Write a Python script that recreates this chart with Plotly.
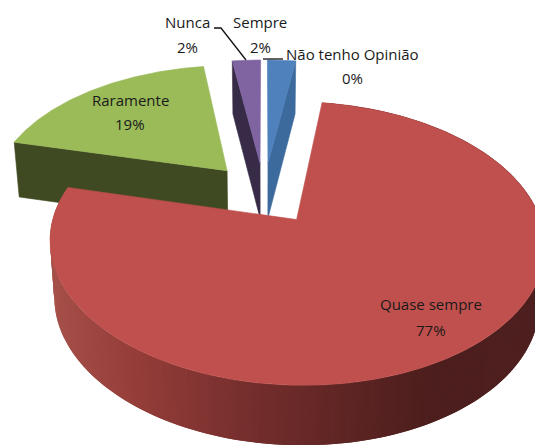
import numpy as np
import plotly.graph_objects as go

categories = ["Sempre", "Não tenho Opinião", "Quase sempre", "Raramente", "Nunca"]
values = [2.3, 0.0, 76.6, 18.8, 2.3]
face_colors = ["#4F81BD", "#4F81BD", "#C0504D", "#9BBB59", "#8064A2"]
wall_colors = ["#3C6A9C", "#3C6A9C", "#7A2F2D", "#3F4A22", "#372B47"]

# projection of the pie plane on to the 535x445 page
CX, CY, FX, FY, KP, EXPLODE = 264.0, 193.0, 236.0, 129.0, 0.163, 0.24


def project(u, v):
    d = 1 + KP * v
    return CX + FX * u / d, CY - FY * v / d


def drop(x, y):
    return CX + (x - CX) * 0.98, y + 51.7 + 0.0215 * y


def slice_geom(a0, a1):
    mid = (a0 + a1) / 2
    ou, ov = EXPLODE * np.sin(mid), EXPLODE * np.cos(mid)
    n = max(2, int((a1 - a0) / 0.01))
    th = np.linspace(a0, a1, n)
    ax, ay = project(ou, ov)
    x, y = project(ou + np.sin(th), ov + np.cos(th))
    return (ax, ay), x, y


def poly(fig, xs, ys, color, width=0.6):
    fig.add_trace(go.Scatter(x=list(xs) + [xs[0]], y=list(ys) + [ys[0]], mode="lines", fill="toself",
                             fillcolor=color, line=dict(color=color, width=width),
                             hoverinfo="skip", showlegend=False))


def wall_shade(x):
    stops_x = [45, 130, 250, 340, 430, 540]
    r = [168, 150, 116, 95, 76, 78]
    g = [82, 62, 46, 38, 30, 32]
    b = [76, 58, 45, 36, 29, 31]
    return "rgb(%d,%d,%d)" % (np.interp(x, stops_x, r), np.interp(x, stops_x, g), np.interp(x, stops_x, b))


fig = go.Figure()
total = sum(values)
edges = np.concatenate([[0], np.cumsum(values)]) / total * 2 * np.pi
geoms = {i: slice_geom(edges[i], edges[i + 1]) for i in range(len(values)) if values[i] > 0}

# Raramente, then Nunca, then Sempre, then Quase sempre in front
for i in [3, 4, 0]:
    (ax, ay), x, y = geoms[i]
    k = -1 if i == 0 else 0
    bx0, by0 = drop(x[k], y[k])
    bx1, by1 = drop(ax, ay)
    poly(fig, [x[k], ax, bx1, bx0], [y[k], ay, by1, by0], wall_colors[i])
    poly(fig, [ax] + list(x), [ay] + list(y), face_colors[i])

(ax, ay), x, y = geoms[2]
bx, by = drop(x, y)
step = 2
for j in range(0, len(x) - step, step):
    e = min(j + 2 * step, len(x) - 1)  # strips overlap so no seams show
    if max(x[j], x[e]) < 40:
        continue
    poly(fig, [x[j], x[e], bx[e], bx[j]], [y[j], y[e], by[e], by[j]], wall_shade((x[j] + x[e]) / 2), width=0)
poly(fig, [ax] + list(x), [ay] + list(y), face_colors[2])

# leader lines
for lx, ly in [([214, 221, 246], [28, 28, 60]), ([263, 283], [59, 59])]:
    fig.add_trace(go.Scatter(x=lx, y=ly, mode="lines", line=dict(color="#111111", width=1.3),
                             hoverinfo="skip", showlegend=False))

label_pos = {0: (260, 22, 47), 1: (352, 54, 78), 2: (431, 304, 330), 3: (130, 100, 124), 4: (187, 22, 47)}
for i, name in enumerate(categories):
    px, y1, y2 = label_pos[i]
    for t, yy in [(name, y1), ("%d%%" % round(values[i]), y2)]:
        fig.add_annotation(x=px, y=yy, text=t, showarrow=False, xanchor="center", yanchor="middle",
                           font=dict(family="Open Sans", size=15, color="#1a1a1a"))

fig.update_layout(width=535, height=445, margin=dict(l=0, r=0, t=0, b=0), paper_bgcolor="white",
                  plot_bgcolor="white", showlegend=False,
                  xaxis=dict(range=[0, 535], visible=False, fixedrange=True),
                  yaxis=dict(range=[445, 0], visible=False, fixedrange=True))
fig.write_html("out.html", config={"displayModeBar": False},
               post_script="document.documentElement.style.overflow='hidden';document.body.style.margin='0';")
